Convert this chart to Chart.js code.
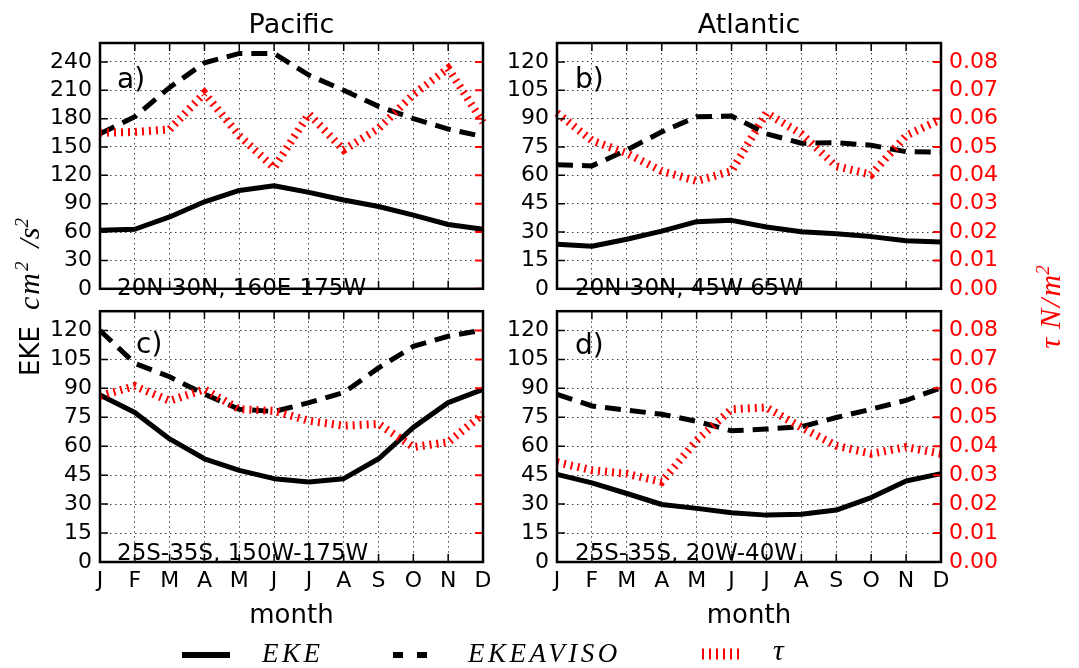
<!DOCTYPE html>
<html>
<head>
<meta charset="utf-8">
<script src="https://cdn.jsdelivr.net/npm/chart.js@4.4.0/dist/chart.umd.min.js"></script>
<style>
  body { margin: 0; background: #fff; width: 1079px; height: 668px; overflow: hidden; position: relative; }
  canvas { position: absolute; }
  svg { position: absolute; left: 0; top: 0; font-family: "DejaVu Sans"; }
  .m { font-family: "Liberation Serif"; font-style: italic; }
</style>
</head>
<body>
<canvas id="pa" width="540" height="310" style="left:0;top:0"></canvas>
<canvas id="pb" width="589" height="310" style="left:490px;top:0"></canvas>
<canvas id="pc" width="540" height="310" style="left:0;top:290px"></canvas>
<canvas id="pd" width="589" height="310" style="left:490px;top:290px"></canvas>

<svg width="1079" height="668">
  <text x="291.5" y="33" text-anchor="middle" font-size="27">Pacific</text>
  <text x="749" y="33" text-anchor="middle" font-size="27">Atlantic</text>

  <text x="117" y="88" font-size="28">a)</text>
  <text x="575" y="88" font-size="28">b)</text>
  <text x="136" y="353" font-size="28">c)</text>
  <text x="575" y="354" font-size="28">d)</text>

  <text x="117" y="295" font-size="23">20N-30N, 160E-175W</text>
  <text x="575" y="295" font-size="23">20N-30N, 45W-65W</text>
  <text x="117" y="560" font-size="23">25S-35S, 150W-175W</text>
  <text x="575" y="560" font-size="23">25S-35S, 20W-40W</text>

  <text x="291.5" y="623" text-anchor="middle" font-size="26">month</text>
  <text x="749" y="623" text-anchor="middle" font-size="26">month</text>

  <text transform="translate(39,297) rotate(-90)" text-anchor="middle" font-size="26">EKE<tspan class="m" dx="16" font-size="30" letter-spacing="2">cm</tspan><tspan class="m" dy="-11" font-size="19">2</tspan><tspan class="m" dy="11" dx="14" font-size="30">/</tspan><tspan class="m" font-size="30">s</tspan><tspan class="m" dy="-11" font-size="19">2</tspan></text>

  <text transform="translate(1060,307) rotate(-90)" text-anchor="middle" fill="#ff0000" class="m" font-size="30">τ<tspan dx="9">N</tspan><tspan dx="2">/</tspan><tspan dx="2">m</tspan><tspan dy="-11" font-size="19">2</tspan></text>

  <line x1="182" x2="230" y1="655" y2="655" stroke="#000" stroke-width="6"/>
  <text x="262" y="662" class="m" font-size="27" letter-spacing="3.5">EKE</text>
  <line x1="393" x2="428" y1="655" y2="655" stroke="#000" stroke-width="6" stroke-dasharray="10 14"/>
  <text x="468" y="662" class="m" font-size="27" letter-spacing="3.5">EKEAVISO</text>
  <line x1="702" x2="744" y1="654" y2="654" stroke="#ff0000" stroke-width="11" stroke-dasharray="2 5"/>
  <text x="773" y="660" class="m" font-size="30">τ</text>
</svg>

<script>
// monthly climatology
const months = ['J', 'F', 'M', 'A', 'M', 'J', 'J', 'A', 'S', 'O', 'N', 'D'];

// a) Pacific 20N-30N
const ekeA   = [62, 63, 76, 92, 104, 109, 102, 94, 87, 78, 68, 63];
const avisoA = [164, 182, 213, 239, 249, 249, 226, 210, 193, 180, 169, 161];
const tauA   = [0.0550, 0.0553, 0.0562, 0.0690, 0.0540, 0.0427, 0.0616, 0.0490, 0.0565, 0.0685, 0.0777, 0.0587];

// b) Atlantic 20N-30N
const ekeB   = [23.5, 22.5, 26.2, 30.5, 35.5, 36.2, 32.7, 30.2, 29.1, 27.6, 25.4, 24.8];
const avisoB = [65.6, 65.0, 73.4, 83.0, 91.0, 91.4, 82.0, 77.0, 77.3, 75.9, 72.5, 72.2];
const tauB   = [0.0620, 0.0523, 0.0478, 0.0415, 0.0380, 0.0415, 0.0620, 0.0546, 0.0432, 0.0403, 0.0540, 0.0598];

// c) Pacific 25S-35S
const ekeC   = [86.6, 77.5, 63.8, 53.5, 47.5, 43.2, 41.5, 43.2, 53.5, 69.8, 82.6, 89.5];
const avisoC = [120, 103, 96, 87, 79.2, 78, 82.6, 87.8, 100.6, 111.8, 117, 120.3];
const tauC   = [0.0574, 0.0608, 0.0557, 0.0597, 0.0528, 0.0522, 0.0488, 0.0471, 0.0477, 0.0397, 0.0414, 0.0511];

// d) Atlantic 25S-35S
const ekeD   = [45.4, 41.0, 35.5, 29.8, 27.8, 25.5, 24.3, 24.7, 26.9, 33.4, 42.0, 45.8];
const avisoD = [86.9, 80.9, 78.7, 76.6, 72.9, 68.0, 68.9, 70.1, 74.9, 79.2, 83.8, 90.3];
const tauD   = [0.0345, 0.0317, 0.0305, 0.0277, 0.0420, 0.0528, 0.0534, 0.0465, 0.0402, 0.0374, 0.0397, 0.0374];

const ekeTicksTop = [0, 30, 60, 90, 120, 150, 180, 210, 240];
const ekeTicks    = [0, 15, 30, 45, 60, 75, 90, 105, 120];
const tauTicks    = [0, 0.01, 0.02, 0.03, 0.04, 0.05, 0.06, 0.07, 0.08];

const tickFont = { family: 'DejaVu Sans', size: 22 };
const gridColor = 'rgba(0,0,0,0.75)';
const gridDash = [1.5, 3.5];

// inward ticks + thick frame, matplotlib style
const frame = {
    id: 'frame',
    afterDraw(chart) {
        const { ctx, chartArea: a, scales } = chart;
        ctx.save();
        ctx.setLineDash([]);
        ctx.strokeStyle = '#000';
        ctx.lineWidth = 1.5;
        ctx.beginPath();
        scales.x.ticks.forEach((t, i) => {
            const x = scales.x.getPixelForTick(i);
            ctx.moveTo(x, a.top); ctx.lineTo(x, a.top + 8);
            ctx.moveTo(x, a.bottom); ctx.lineTo(x, a.bottom - 8);
        });
        scales.y.ticks.forEach(t => {
            const y = scales.y.getPixelForValue(t.value);
            ctx.moveTo(a.left, y); ctx.lineTo(a.left + 8, y);
        });
        ctx.stroke();
        ctx.strokeStyle = '#ff0000';
        ctx.lineWidth = 2;
        ctx.beginPath();
        scales.y1.ticks.forEach(t => {
            const y = scales.y1.getPixelForValue(t.value);
            ctx.moveTo(a.right, y); ctx.lineTo(a.right - 8, y);
        });
        ctx.stroke();
        ctx.strokeStyle = '#000';
        ctx.lineWidth = 2.5;
        ctx.strokeRect(a.left, a.top, a.right - a.left, a.bottom - a.top);
        ctx.restore();
    }
};

function makePanel(id, eke, aviso, tau, o) {
    const ctx = document.getElementById(id).getContext('2d');
    return new Chart(ctx, {
        type: 'line',
        data: {
            labels: months,
            datasets: [
                { label: 'EKE', data: eke, yAxisID: 'y', borderColor: '#000', borderWidth: 5,
                  pointRadius: 0, borderJoinStyle: 'round', order: 3 },
                { label: 'EKEAVISO', data: aviso, yAxisID: 'y', borderColor: '#000', borderWidth: 5,
                  borderDash: [16, 9], pointRadius: 0, order: 2 },
                { label: 'tau', data: tau, yAxisID: 'y1', borderColor: '#ff0000', borderWidth: 8,
                  borderDash: [2, 5], pointRadius: 0, order: 1 }
            ]
        },
        options: {
            responsive: false,
            animation: false,
            devicePixelRatio: 1,
            layout: { padding: { top: o.padTop, left: 0, right: 0, bottom: 0 } },
            plugins: { legend: { display: false }, tooltip: { enabled: false } },
            scales: {
                x: {
                    type: 'category',
                    offset: false,
                    grid: { color: gridColor, lineWidth: 1, drawTicks: false },
                    border: { display: false, dash: gridDash },
                    ticks: { display: o.showX, color: '#000', font: tickFont, padding: 6,
                             autoSkip: false, maxRotation: 0 },
                    afterFit(s) { s.height = o.xH; }
                },
                y: {
                    position: 'left',
                    min: 0,
                    max: o.yMax,
                    afterBuildTicks(s) { s.ticks = o.yTicks.map(v => ({ value: v })); },
                    grid: { color: gridColor, lineWidth: 1, drawTicks: false },
                    border: { display: false, dash: gridDash },
                    ticks: { color: '#000', font: tickFont, padding: 8, autoSkip: false,
                             callback: v => String(v) },
                    afterFit(s) { s.width = o.leftW; }
                },
                y1: {
                    position: 'right',
                    min: 0,
                    max: 0.08 * 13 / 12,
                    afterBuildTicks(s) { s.ticks = tauTicks.map(v => ({ value: v })); },
                    grid: { drawOnChartArea: false, drawTicks: false },
                    border: { display: false },
                    ticks: { display: o.showTau, color: '#ff0000', font: tickFont, padding: 8,
                             autoSkip: false, callback: v => v.toFixed(2) },
                    afterFit(s) { s.width = o.rightW; }
                }
            }
        },
        plugins: [frame]
    });
}

makePanel('pa', ekeA, avisoA, tauA, { yMax: 260, yTicks: ekeTicksTop, showX: false, showTau: false,
    leftW: 100, rightW: 57, padTop: 43, xH: 14 });
makePanel('pb', ekeB, avisoB, tauB, { yMax: 130, yTicks: ekeTicks, showX: false, showTau: true,
    leftW: 67, rightW: 138, padTop: 43, xH: 14 });
makePanel('pc', ekeC, avisoC, tauC, { yMax: 130, yTicks: ekeTicks, showX: true, showTau: false,
    leftW: 100, rightW: 57, padTop: 19, xH: 38 });
makePanel('pd', ekeD, avisoD, tauD, { yMax: 130, yTicks: ekeTicks, showX: true, showTau: true,
    leftW: 67, rightW: 138, padTop: 19, xH: 38 });
</script>
</body>
</html>
